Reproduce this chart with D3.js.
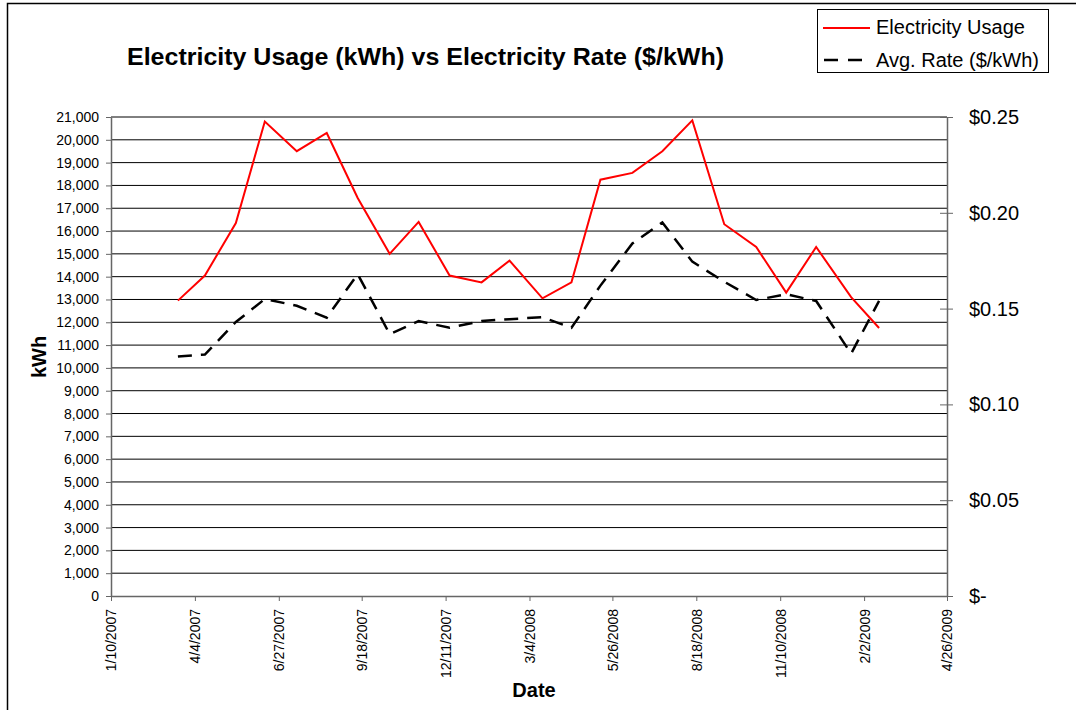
<!DOCTYPE html>
<html>
<head>
<meta charset="utf-8">
<script src="https://cdn.jsdelivr.net/npm/d3@7"></script>
<style>
  html, body { margin: 0; padding: 0; background: #fff; }
  svg { display: block; font-family: 'Liberation Sans', Arial, sans-serif; }
</style>
</head>
<body>
<svg id="chart" width="1076" height="710"></svg>
<script>
// billing dates (monthly readings)
const readDates = [
  '3/18/2007', '4/14/2007', '5/15/2007', '6/13/2007', '7/15/2007', '8/14/2007',
  '9/14/2007', '10/16/2007', '11/14/2007', '12/15/2007', '1/16/2008', '2/13/2008',
  '3/17/2008', '4/15/2008', '5/14/2008', '6/15/2008', '7/15/2008', '8/14/2008',
  '9/15/2008', '10/17/2008', '11/16/2008', '12/16/2008', '1/20/2009', '2/17/2009'
];
// electricity usage, kWh
const usageKwh = [
  12950, 14050, 16350, 20800, 19500, 20300,
  17450, 15000, 16400, 14050, 13750, 14700,
  13050, 13750, 18250, 18550, 19500, 20850,
  16300, 15300, 13300, 15300, 13100, 11750
];
// average rate, $/kWh
const avgRate = [
  0.125, 0.126, 0.143, 0.155, 0.1515, 0.1453,
  0.168, 0.1367, 0.1435, 0.140, 0.1435, 0.1445,
  0.1455, 0.140, 0.162, 0.184, 0.195, 0.1745,
  0.164, 0.1545, 0.1575, 0.154, 0.1265, 0.154
];
const dateTicks = [
  '1/10/2007', '4/4/2007', '6/27/2007', '9/18/2007', '12/11/2007', '3/4/2008',
  '5/26/2008', '8/18/2008', '11/10/2008', '2/2/2009', '4/26/2009'
];
const kwhTicks = d3.range(0, 21001, 1000);
const rateTicks = [0, 0.05, 0.10, 0.15, 0.20, 0.25];

const parseDate = d3.timeParse('%m/%d/%Y');

const svg = d3.select('#chart');
const plotLeft = 111, plotRight = 947, plotTop = 117, plotBottom = 596;

const xScale = d3.scaleTime()
  .domain([parseDate(dateTicks[0]), parseDate(dateTicks[dateTicks.length - 1])])
  .range([plotLeft, plotRight]);
const yKwh = d3.scaleLinear().domain([0, 21000]).range([plotBottom, plotTop]);
const yRate = d3.scaleLinear().domain([0, 0.25]).range([plotBottom, plotTop]);

// outer frame
svg.append('path')
  .attr('d', 'M7.5,760 V3.5 H1100')
  .attr('fill', 'none')
  .attr('stroke', '#000')
  .attr('stroke-width', 1.5);

// title
svg.append('text')
  .text('Electricity Usage (kWh) vs Electricity Rate ($/kWh)')
  .attr('x', 127)
  .attr('y', 65)
  .attr('textLength', 597)
  .attr('lengthAdjust', 'spacingAndGlyphs')
  .style('font-size', '24px')
  .style('font-weight', 'bold');

// gridlines
svg.append('g')
  .attr('class', 'grid')
  .selectAll('line')
  .data(kwhTicks.filter(d => d > 0))
  .enter()
  .append('line')
  .attr('x1', plotLeft)
  .attr('x2', plotRight)
  .attr('y1', d => yKwh(d))
  .attr('y2', d => yKwh(d))
  .attr('stroke', '#000')
  .attr('stroke-width', 1);

// left axis
const leftAxis = svg.append('g')
  .attr('transform', 'translate(' + plotLeft + ',0)')
  .call(d3.axisLeft(yKwh).tickValues(kwhTicks).tickFormat(d3.format(',')).tickSize(5).tickPadding(7).tickSizeOuter(0));
leftAxis.select('.domain').attr('stroke', '#666').attr('stroke-width', 1.5);
leftAxis.selectAll('.tick line').attr('stroke', '#666');
leftAxis.selectAll('.tick text')
  .style('font-size', '14px')
  .style('font-family', "'Liberation Sans', Arial, sans-serif")
  .attr('fill', '#000');

// right axis
const rightAxis = svg.append('g')
  .attr('transform', 'translate(' + plotRight + ',0)')
  .call(d3.axisRight(yRate).tickValues(rateTicks)
    .tickFormat(d => d === 0 ? '$-' : '$' + d.toFixed(2))
    .tickSize(6).tickPadding(16).tickSizeOuter(0));
rightAxis.select('.domain').attr('stroke', '#666').attr('stroke-width', 1.5);
rightAxis.selectAll('.tick line').attr('x1', -7).attr('stroke', '#666');
rightAxis.selectAll('.tick text')
  .style('font-size', '20px')
  .style('font-family', "'Liberation Sans', Arial, sans-serif")
  .attr('fill', '#000');

// bottom axis
const bottomAxis = svg.append('g')
  .attr('transform', 'translate(0,' + plotBottom + ')')
  .call(d3.axisBottom(xScale).tickValues(dateTicks.map(parseDate)).tickSize(5).tickSizeOuter(0));
bottomAxis.select('.domain').attr('stroke', '#666').attr('stroke-width', 1.5);
bottomAxis.selectAll('.tick line').attr('stroke', '#666');
bottomAxis.selectAll('.tick text')
  .text((d, i) => dateTicks[i])
  .attr('transform', 'rotate(-90)')
  .attr('x', -13)
  .attr('y', 0)
  .attr('dy', '0.35em')
  .attr('text-anchor', 'end')
  .style('font-size', '14px')
  .style('font-family', "'Liberation Sans', Arial, sans-serif")
  .attr('fill', '#000');

// axis titles
svg.append('text')
  .text('kWh')
  .attr('transform', 'translate(46,357) rotate(-90)')
  .attr('text-anchor', 'middle')
  .style('font-size', '20px')
  .style('font-weight', 'bold');
svg.append('text')
  .text('Date')
  .attr('x', 534)
  .attr('y', 697)
  .attr('text-anchor', 'middle')
  .style('font-size', '20px')
  .style('font-weight', 'bold');

// series
const usagePts = readDates.map((d, i) => [parseDate(d), usageKwh[i]]);
const ratePts = readDates.map((d, i) => [parseDate(d), avgRate[i]]);

svg.append('path')
  .datum(ratePts)
  .attr('d', d3.line().x(d => xScale(d[0])).y(d => yRate(d[1])))
  .attr('fill', 'none')
  .attr('stroke', '#000')
  .attr('stroke-width', 2.5)
  .attr('stroke-dasharray', '14,9');

svg.append('path')
  .datum(usagePts)
  .attr('d', d3.line().x(d => xScale(d[0])).y(d => yKwh(d[1])))
  .attr('fill', 'none')
  .attr('stroke', '#ff0000')
  .attr('stroke-width', 2);

// legend
const legend = svg.append('g').attr('class', 'legend');
legend.append('rect')
  .attr('x', 817.5)
  .attr('y', 9.5)
  .attr('width', 231)
  .attr('height', 63)
  .attr('fill', '#fff')
  .attr('stroke', '#000');
legend.append('line')
  .attr('x1', 823).attr('x2', 870).attr('y1', 28).attr('y2', 28)
  .attr('stroke', '#ff0000').attr('stroke-width', 2);
legend.append('line')
  .attr('x1', 824).attr('x2', 863).attr('y1', 60).attr('y2', 60)
  .attr('stroke', '#000').attr('stroke-width', 2.5).attr('stroke-dasharray', '14,10');
legend.append('text')
  .text('Electricity Usage')
  .attr('x', 876).attr('y', 33.5)
  .style('font-size', '20px');
legend.append('text')
  .text('Avg. Rate ($/kWh)')
  .attr('x', 876).attr('y', 66.5)
  .style('font-size', '20px');
</script>
</body>
</html>
